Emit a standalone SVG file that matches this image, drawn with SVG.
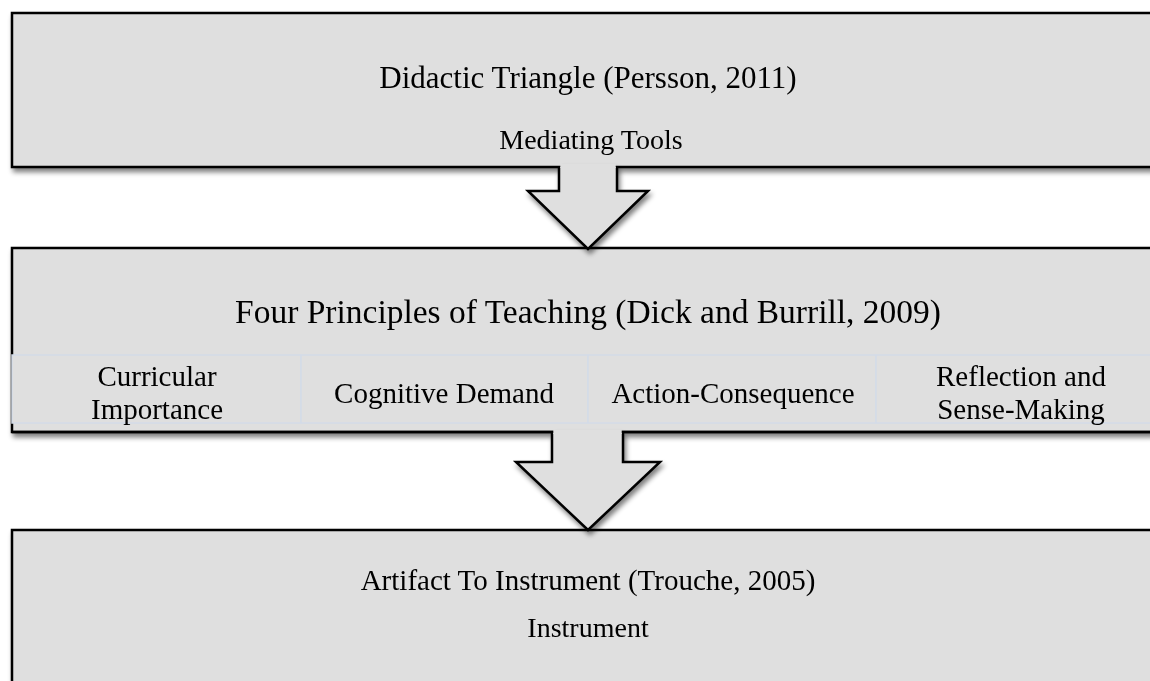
<svg xmlns="http://www.w3.org/2000/svg" width="1150" height="681" viewBox="0 0 1150 681">
  <style>
    .box { fill: #dfdfdf; stroke: #000; stroke-width: 2.5; }
    .arrow { fill: #dfdfdf; stroke: #000; stroke-width: 2.5; stroke-linejoin: miter; }
    .cell { fill: #dfdfdf; stroke: #d4dbe8; stroke-width: 1.5; }
    text { font-family: "Liberation Serif", "Times New Roman", serif; fill: #000; text-anchor: middle; }
    .title { font-size: 31px; }
    .sub { font-size: 28px; }
    .ctext { font-size: 29px; }
  </style>
  <defs>
    <filter id="shadow" x="-5%" y="-10%" width="115%" height="130%">
      <feGaussianBlur in="SourceAlpha" stdDeviation="2.5"/>
      <feOffset dx="2" dy="4" result="b"/>
      <feComponentTransfer><feFuncA type="linear" slope="0.5"/></feComponentTransfer>
      <feMerge><feMergeNode/><feMergeNode in="SourceGraphic"/></feMerge>
    </filter>
  </defs>

  <g id="node-didactic" filter="url(#shadow)">
    <rect class="box" x="12" y="13" width="1150" height="154"/>
    <text class="title" x="588" y="88">Didactic Triangle (Persson, 2011)</text>
    <text class="sub" x="591" y="149">Mediating Tools</text>
  </g>

  <g id="node-principles" filter="url(#shadow)">
    <rect class="box" x="12" y="248" width="1150" height="184"/>
    <rect class="cell" x="12" y="355" width="289" height="68"/>
    <rect class="cell" x="301" y="355" width="287" height="68"/>
    <rect class="cell" x="588" y="355" width="288" height="68"/>
    <rect class="cell" x="876" y="355" width="286" height="68"/>
    <line x1="12" y1="432" x2="1150" y2="432" stroke="#000" stroke-width="2.5"/>
    <text class="title" x="588" y="323" style="font-size:33.5px">Four Principles of Teaching (Dick and Burrill, 2009)</text>
    <text class="ctext" x="157" y="386">Curricular</text>
    <text class="ctext" x="157" y="419">Importance</text>
    <text class="ctext" x="444" y="403">Cognitive Demand</text>
    <text class="ctext" x="733" y="403">Action-Consequence</text>
    <text class="ctext" x="1021" y="386">Reflection and</text>
    <text class="ctext" x="1021" y="419">Sense-Making</text>
  </g>

  <g id="node-artifact" filter="url(#shadow)">
    <rect class="box" x="12" y="530" width="1150" height="170"/>
    <text class="title" x="588" y="590" style="font-size:29px">Artifact To Instrument (Trouche, 2005)</text>
    <text class="sub" x="588" y="637">Instrument</text>
  </g>

  <g id="connectors" filter="url(#shadow)">
    <path class="arrow" d="M559,167 L559,191 L528,191 L588,249 L648,191 L617,191 L617,167"/>
    <rect x="560.3" y="164" width="55.4" height="4" fill="#dfdfdf"/>
    <path class="arrow" d="M552,433 L552,462 L516,462 L588,530 L660,462 L623,462 L623,433"/>
    <rect x="553.3" y="430" width="68.4" height="4" fill="#dfdfdf"/>
  </g>
</svg>
